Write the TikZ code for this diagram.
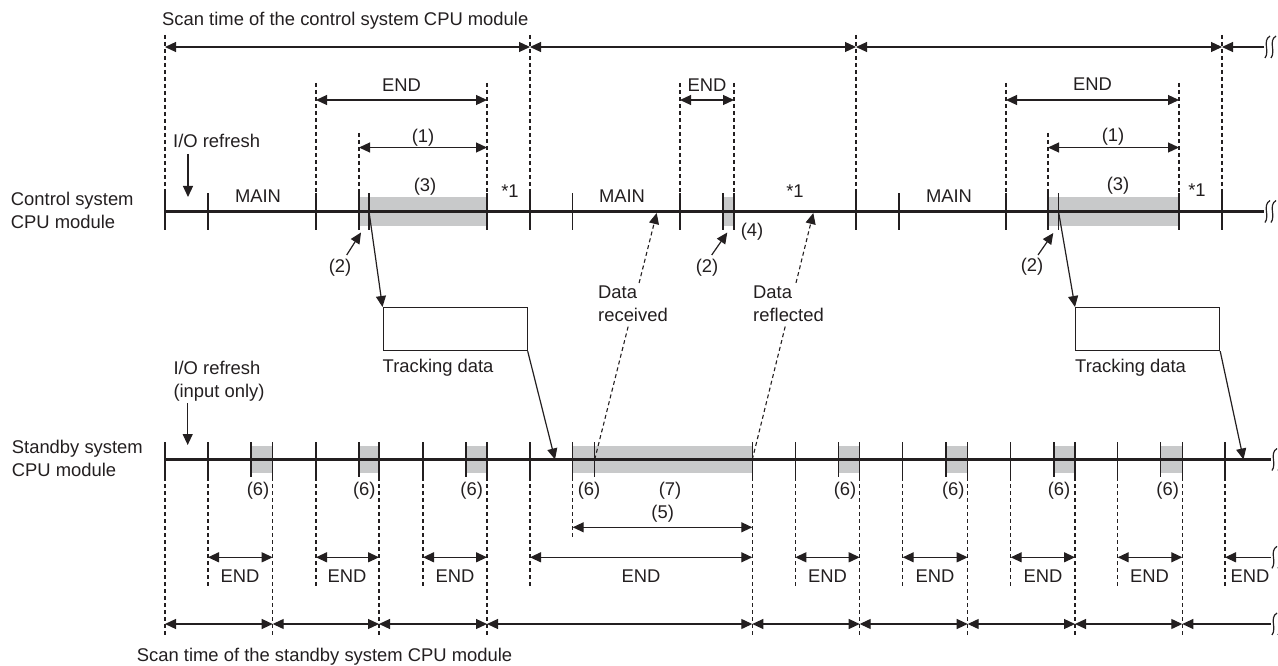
\documentclass[tikz,border=0pt]{standalone}
\usepackage{fontspec}
\setmainfont{Liberation Sans}
\usetikzlibrary{arrows.meta}
\definecolor{ink}{HTML}{231F20}
\definecolor{shade}{HTML}{C8C9CA}
\begin{document}
\begin{tikzpicture}[x=1pt,y=-1pt,
  every node/.style={text=ink, font=\fontsize{18.4}{23}\selectfont, inner sep=0pt},
  tl/.style={draw=ink, line width=2.5pt},
  tk/.style={draw=ink, line width=1.2pt},
  dsh/.style={draw=ink, line width=1.1pt, dash pattern=on 4pt off 3pt},
  dimarr/.style={draw=ink, line width=1.2pt, {Triangle[length=11pt,width=10pt]}-{Triangle[length=11pt,width=10pt]}},
  arr/.style={draw=ink, line width=1.2pt, -{Triangle[length=11pt,width=10pt]}},
  shd/.style={fill=shade, draw=none},
  brk/.style={draw=ink, line width=1.2pt},
  gap/.style={fill=white, inner sep=2pt, align=left, anchor=west},
  boxstyle/.style={draw=ink, line width=1.2pt, minimum width=144pt, minimum height=43pt, anchor=north west},
  brkpic/.pic={\draw[brk] (5,-11) .. controls (-3,-6) and (5,4) .. (0,11);
               \draw[brk] (11,-11) .. controls (3,-6) and (11,4) .. (6,11);}
]
\useasboundingbox (0,0) rectangle (1278,666);

% ---------------- grey blocks ----------------
\foreach \a/\b in {359/487,723/734,1048/1179}
  \fill[shd] (\a,197.5) rectangle (\b,225.5);
\foreach \a/\b in {251/272.7,359/379,466/487,572.7/752.3,838.3/859.7,946/967.7,1054/1075,1160.7/1182.3}
  \fill[shd] (\a,446) rectangle (\b,473);

% ---------------- control system ----------------
\draw[tl] (165,211.5) -- (1264,211.5);
\pic at (1265,211.5) {brkpic};
\foreach \x in {165,208,316,359,369,487,530,572.5,680,723,734,856,899,1006,1048,1058.5,1179,1222}
  \draw[tk] (\x,193.5) -- (\x,229.5);

% scan time arrows (top)
\foreach \x in {165,530,856,1222}
  \draw[dsh] (\x,35) -- (\x,193.5);
\draw[dimarr] (165,47) -- (530,47);
\draw[dimarr] (530,47) -- (856,47);
\draw[dimarr] (856,47) -- (1222,47);
\draw[arr] (1264,47) -- (1222,47);
\pic at (1265,47) {brkpic};
\node[anchor=west] (tscan) at (162,20.5) {Scan time of the control system CPU module};

% END arrows (top)
\foreach \x in {316,487,680,734,1006,1179}
  \draw[dsh] (\x,83) -- (\x,193.5);
\draw[dimarr] (316,100) -- (487,100);
\draw[dimarr] (680,100) -- (734,100);
\draw[dimarr] (1006,100) -- (1179,100);
\node (e1) at (401.5,85) {END};
\node (e2) at (707,85) {END};
\node (e3) at (1092.5,84.5) {END};

% (1) arrows
\foreach \x in {359,1048}
  \draw[dsh] (\x,133) -- (\x,193.5);
\draw[dimarr] (359,147.5) -- (487,147.5);
\draw[dimarr] (1048,147.5) -- (1179,147.5);
\node (p1a) at (423,138) {(1)};
\node (p1b) at (1113,137) {(1)};

% I/O refresh
\node[anchor=west] (io1) at (173,141) {I/O refresh};
\coordinate (io1t) at (188,197);
\draw[arr] (188,154) -- (io1t);

% labels on control line
\node (m1) at (258,196) {MAIN};
\node (m2) at (622,196) {MAIN};
\node (m3) at (949,196) {MAIN};
\node (s1) at (510,191) {*1};
\node (s2) at (795,191.5) {*1};
\node (s3) at (1197,190) {*1};
\node (p3a) at (425,186.5) {(3)};
\node (p3b) at (1118,186) {(3)};
\node (p4) at (752,231.7) {(4)};
\node (p2a) at (340,268) {(2)};
\node (p2b) at (707,268) {(2)};
\node (p2c) at (1032,267) {(2)};
\coordinate (t2a) at (361,232.5);
\coordinate (t2b) at (727.3,232.5);
\coordinate (t2c) at (1053.3,233);
\draw[arr] (346.7,255) -- (t2a);
\draw[arr] (711.7,255) -- (t2b);
\draw[arr] (1038,255) -- (t2c);

\node[anchor=west, align=left] (ctl) at (10.7,210.5) {Control system\\CPU module};

% ---------------- tracking data ----------------
\node[boxstyle] (box1) at (382.5,307) {};
\node[boxstyle] (box2) at (1075,307) {};
\node[anchor=west] (td1) at (382.5,367.5) {Tracking data};
\node[anchor=west] (td2) at (1075,367.5) {Tracking data};
\coordinate (c1) at (369,211.5);
\coordinate (c2) at (1058.5,211.5);
\coordinate (sa) at (555,459.5);
\coordinate (sb) at (1243.5,459.5);
\draw[arr] (c1) -- (box1.north west);
\draw[arr] (c2) -- (box2.north west);
\draw[arr] (box1.south east) -- (sa);
\draw[arr] (box2.south east) -- (sb);

% data received / reflected
\coordinate (dr0) at (594.7,459.5);
\coordinate (dr1) at (656.7,213);
\coordinate (df0) at (752.3,459.5);
\coordinate (df1) at (813.3,213);
\draw[dsh, -{Triangle[length=11pt,width=10pt]}] (dr0) -- (dr1);
\draw[dsh, -{Triangle[length=11pt,width=10pt]}] (df0) -- (df1);
\node[gap] (drx) at (596,304) {Data\\received};
\node[gap] (dfx) at (751,304) {Data\\reflected};

% ---------------- standby system ----------------
\draw[tl] (165,459.5) -- (1271,459.5);
\pic at (1272,459.5) {brkpic};
\foreach \x in {165,208,251,272.7,316,359,379,423,466,487,530,572.7,594.7,752.3,795.3,838.3,859.7,902.7,946,967.7,1010.7,1054,1075,1117.7,1160.7,1182.3,1225}
  \draw[tk] (\x,442) -- (\x,477);
\node[anchor=west, align=left] (sby) at (11.7,458.7) {Standby system\\CPU module};
\node[anchor=west, align=left] (io2) at (173.3,381.7) {I/O refresh\\(input only)};
\coordinate (io2t) at (187.7,445);
\draw[arr] (187.7,403) -- (io2t);

% (6), (7), (5)
\foreach \x in {258,364.3,471.7,589,845,953.3,1059,1167.7}
  \node at (\x,490.7) {(6)};
\node (p7) at (670,490.7) {(7)};
\node (p5) at (662.7,513.3) {(5)};
\draw[dsh] (572.7,477) -- (572.7,537);
\draw[dimarr] (572.7,527.3) -- (752.3,527.3);

% dashed lines below standby
\foreach \x in {208,316,423,530,795.3,902.7,1010.7,1117.7,1225}
  \draw[dsh] (\x,477) -- (\x,586);
\foreach \x in {165,272.7,379,487,752.3,859.7,967.7,1075,1182.3}
  \draw[dsh] (\x,477) -- (\x,635);

% END arrows (bottom)
\foreach \a/\b in {208/272.7,316/379,423/487,530/752.3,795.3/859.7,902.7/967.7,1010.7/1075,1117.7/1182.3}
  \draw[dimarr] (\a,557.3) -- (\b,557.3);
\draw[arr] (1271,557.3) -- (1225,557.3);
\pic at (1272,557.3) {brkpic};
\foreach \x in {240,347,455,641,827.5,935,1043,1149.5,1250}
  \node at (\x,575.7) {END};

% scan time arrows (bottom)
\foreach \a/\b in {165/272.7,272.7/379,379/487,487/752.3,752.3/859.7,859.7/967.7,967.7/1075,1075/1182.3}
  \draw[dimarr] (\a,624) -- (\b,624);
\draw[arr] (1271,624) -- (1182.3,624);
\pic at (1272,624) {brkpic};
\node[anchor=west] (bscan) at (136.7,657) {Scan time of the standby system CPU module};
\end{tikzpicture}
\end{document}
